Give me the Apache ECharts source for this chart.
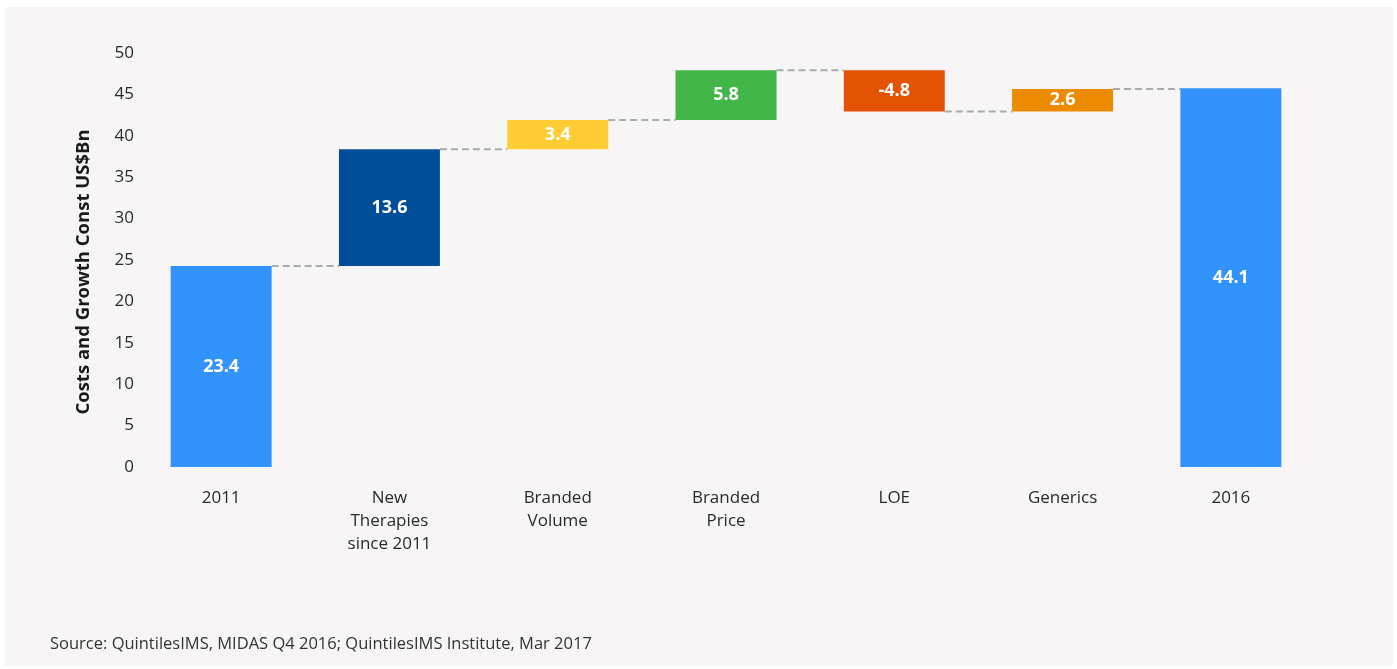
<!DOCTYPE html>
<html>
<head>
<meta charset="utf-8" />
<title>Costs and Growth</title>
<script src="https://cdn.jsdelivr.net/npm/echarts@6/dist/echarts.min.js"></script>
<style>
  html, body { margin: 0; padding: 0; background: #ffffff; }
  #main { width: 1397px; height: 669px; }
</style>
</head>
<body>
<div id="main"></div>
<script>
// data
var categories = ['2011', 'New\nTherapies\nsince 2011', 'Branded\nVolume', 'Branded\nPrice', 'LOE', 'Generics', '2016'];
var changes = [23.4, 13.6, 3.4, 5.8, -4.8, 2.6, 44.1];
var isTotal = [true, false, false, false, false, false, true];
var barColors = ['#3393fd', '#004e98', '#ffcd33', '#43b649', '#e35205', '#ec8b00', '#3393fd'];

// build the waterfall: invisible base + visible part
var baseData = [], valueData = [], levels = [];
var running = 0;
for (var i = 0; i < changes.length; i++) {
  var v = changes[i];
  if (isTotal[i]) {
    baseData.push(0);
    valueData.push(v);
    running = v;
  } else if (v >= 0) {
    baseData.push(running);
    valueData.push(v);
    running = running + v;
  } else {
    running = running + v;
    baseData.push(running);
    valueData.push(-v);
  }
  levels.push(running);
}

var chart = echarts.init(document.getElementById('main'));

var font = '"Open Sans", Lato, sans-serif';

// dashed connector between neighbouring bars
function renderConnector(params, api) {
  var idx = api.value(0);
  var level = api.value(1);
  var p1 = api.coord([idx, level]);
  var p2 = api.coord([idx + 1, level]);
  var bw = api.size([1, 0])[0] * 0.6;
  return {
    type: 'line',
    shape: { x1: p1[0] + bw / 2, y1: p1[1], x2: p2[0] - bw / 2, y2: p2[1] },
    style: { stroke: '#ababab', lineWidth: 2, lineDash: [7, 4] }
  };
}

var connectorData = [];
for (var j = 0; j < levels.length - 1; j++) {
  connectorData.push([j, levels[j]]);
}

chart.setOption({
  backgroundColor: '#ffffff',
  animation: false,
  graphic: [
    { type: 'rect', z: -10, shape: { x: 5, y: 7, width: 1388, height: 659 }, style: { fill: '#f7f5f6' } },
    {
      type: 'text', x: 84, y: 272, rotation: Math.PI / 2,
      style: { text: 'Costs and Growth Const US$Bn', fill: '#1a1a1a', font: 'bold 18.5px ' + font, textAlign: 'center', textVerticalAlign: 'middle' }
    },
    {
      type: 'text', x: 50, y: 644,
      style: { text: 'Source: QuintilesIMS, MIDAS Q4 2016; QuintilesIMS Institute, Mar 2017', fill: '#333333', font: '16.5px ' + font, textVerticalAlign: 'middle' }
    }
  ],
  grid: { left: 137, right: 82, top: 53, bottom: 202 },
  xAxis: {
    type: 'category',
    data: categories,
    axisLine: { show: false },
    axisTick: { show: false },
    axisLabel: { color: '#2a2a2a', fontSize: 17, fontFamily: font, margin: 20, lineHeight: 23 }
  },
  yAxis: [
    {
      type: 'value', min: 0, max: 50, interval: 5,
      splitLine: { show: false },
      axisLine: { show: false },
      axisTick: { show: false },
      axisLabel: { color: '#2a2a2a', fontSize: 17, fontFamily: font, margin: 3 }
    },
    {
      // bars sit on their own scale, as in the picture
      type: 'value', min: 0, max: 48.2, show: false
    }
  ],
  series: [
    {
      name: 'base', type: 'bar', stack: 'wf', yAxisIndex: 1,
      barCategoryGap: '40%',
      itemStyle: { color: 'transparent' },
      data: baseData
    },
    {
      name: 'value', type: 'bar', stack: 'wf', yAxisIndex: 1,
      barCategoryGap: '40%',
      data: valueData.map(function (v, k) {
        return { value: v, itemStyle: { color: barColors[k] } };
      }),
      label: {
        show: true, position: 'inside', color: '#ffffff',
        fontSize: 18, fontWeight: 'bold', fontFamily: font,
        formatter: function (p) { return changes[p.dataIndex].toFixed(1); }
      }
    },
    {
      name: 'connector', type: 'custom', yAxisIndex: 1,
      renderItem: renderConnector,
      data: connectorData,
      z: 1
    }
  ]
});
</script>
</body>
</html>
